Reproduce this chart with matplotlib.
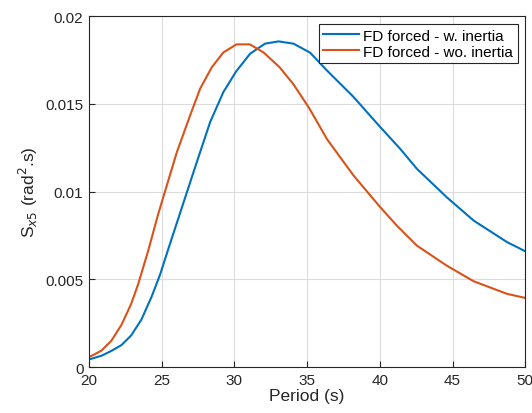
import matplotlib
matplotlib.use("Agg")
import matplotlib.pyplot as plt

# period (s) and spectrum values
period_w = [20.0, 20.85, 21.54, 22.23, 22.9, 23.6, 24.3, 24.9, 25.44, 26.35,
            27.41, 28.33, 29.24, 30.12, 31.08, 32.1, 33.03, 34.06, 35.2, 36.36,
            38.19, 40.03, 41.4, 42.55, 44.6, 46.45, 48.75, 50.0]
s_w = [0.00043, 0.00064, 0.00092, 0.00125, 0.0018, 0.0027, 0.0040, 0.0053, 0.0067, 0.0090,
       0.01168, 0.01397, 0.01568, 0.01686, 0.01787, 0.01844, 0.01857, 0.01844, 0.01793, 0.01691,
       0.0154, 0.01368, 0.01244, 0.0113, 0.00968, 0.00835, 0.00712, 0.0066]

period_wo = [20.0, 20.85, 21.54, 22.23, 22.9, 23.37, 24.06, 24.75, 25.44, 26.04,
             26.95, 27.64, 28.44, 29.24, 30.14, 31.06, 32.0, 33.1, 34.06, 35.15,
             36.36, 38.19, 40.03, 41.17, 42.55, 44.6, 46.45, 48.75, 50.0]
s_wo = [0.00056, 0.00093, 0.0015, 0.0024, 0.0036, 0.0047, 0.0066, 0.0087, 0.0106, 0.01225,
        0.01434, 0.01587, 0.01709, 0.01794, 0.0184, 0.0184, 0.01794, 0.0171, 0.01612, 0.01475,
        0.0130, 0.01092, 0.00911, 0.00806, 0.00692, 0.00578, 0.00489, 0.00417, 0.00394]

plt.rcParams["font.family"] = ["Liberation Sans", "DejaVu Sans"]

fig = plt.figure(figsize=(5.32, 4.14), dpi=100)
ax = fig.add_axes([0.1673, 0.1111, 0.8201, 0.8471])

ax.plot(period_w, s_w, color="#0072BD", lw=1.5, label="FD forced - w. inertia")
ax.plot(period_wo, s_wo, color="#D95319", lw=1.5, label="FD forced - wo. inertia")

ax.set_xlim(20, 50)
ax.set_ylim(0, 0.02)
ax.set_xticks([20, 25, 30, 35, 40, 45, 50])
ax.set_yticks([0, 0.005, 0.01, 0.015, 0.02])
ax.set_yticklabels(["0", "0.005", "0.01", "0.015", "0.02"])
ax.grid(True, color="#dcdcdc", lw=0.8)
ax.set_axisbelow(True)
ax.tick_params(direction="in", length=4, colors="#262626", labelsize=11, pad=4)
for sp in ax.spines.values():
    sp.set_color("#262626")
    sp.set_linewidth(0.8)

ax.set_xlabel("Period (s)", color="#262626", fontsize=12.5, labelpad=1)
ax.set_ylabel("S$_{x5}$ (rad$^2$.s)", color="#262626", fontsize=12.5, labelpad=4)

leg = ax.legend(loc="upper right", fancybox=False, framealpha=1, edgecolor="#262626",
                borderpad=0.3, handlelength=2.3, handletextpad=0.3, labelspacing=0.15,
                borderaxespad=0.5, fontsize=11)
leg.get_frame().set_linewidth(0.8)

fig.savefig("out.png", dpi=100)
